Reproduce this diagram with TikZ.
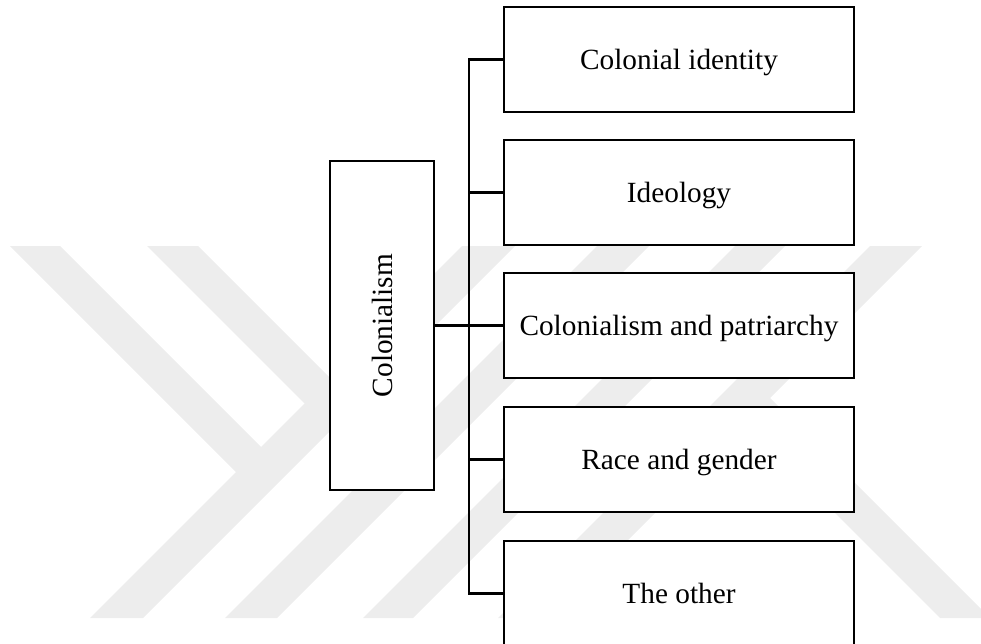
\documentclass[tikz,border=0pt]{standalone}
\usepackage{fontspec}
\usepackage{graphicx}
\setmainfont{Liberation Serif}
\definecolor{wm}{RGB}{237,237,237}
\tikzset{
  box/.style={draw=black, line width=2.5pt, fill=white, minimum width=350pt,
    minimum height=105pt, inner sep=0pt, text height=19.4pt, text depth=0pt,
    font=\fontsize{29.3}{35}\selectfont},
  colbox/.style={draw=black, line width=2.5pt, fill=white, minimum width=104pt,
    minimum height=329pt, inner sep=0pt, font=\fontsize{29.3}{35}\selectfont},
  conn/.style={line width=2.5pt},
  mainconn/.style={line width=3.8pt}
}
\begin{document}
\begin{tikzpicture}[x=1pt,y=-1pt]
\useasboundingbox (0,0) rectangle (981,644);
% watermark
\begin{scope}
\clip (0,246) rectangle (981,618);
\fill[wm] (10,246) -- (60,246) -- (280,466) -- (255,491) -- cycle;
\fill[wm] (90,618) -- (143,618) -- (515,246) -- (462,246) -- cycle;
\fill[wm] (147,246) -- (198,246) -- (423.5,471.5) -- (372,471) -- cycle;
\fill[wm] (225,618) -- (277,618) -- (649,246) -- (597,246) -- cycle;
\fill[wm] (363,618) -- (413,618) -- (785,246) -- (735,246) -- cycle;
\fill[wm] (498,618) -- (550,618) -- (922,246) -- (870,246) -- cycle;
\fill[wm] (940,618) -- (990,618) -- (770,398) -- (719,397) -- cycle;
\end{scope}
% nodes
\node[colbox] (col) at (382,325.5) {\rotatebox{90}{\vphantom{l}Colonialism}};
\node[box] (b1) at (679,59.5) {Colonial identity};
\node[box] (b2) at (679,192.5) {Ideology};
\node[box] (b3) at (679,325.5) {Colonialism and patriarchy};
\node[box] (b4) at (679,459.5) {Race and gender};
\node[box] (b5) at (679,593.5) {The other};
\coordinate (tx) at (469,0);
% connectors
\draw[conn] (b1.west) -- (b1.west -| tx) -- (b5.west -| tx) -- (b5.west);
\foreach \b in {b2,b3,b4} \draw[conn] (\b.west) -- (\b.west -| tx);
\draw[mainconn] (col.east) -- (col.east -| tx);
\end{tikzpicture}
\end{document}
